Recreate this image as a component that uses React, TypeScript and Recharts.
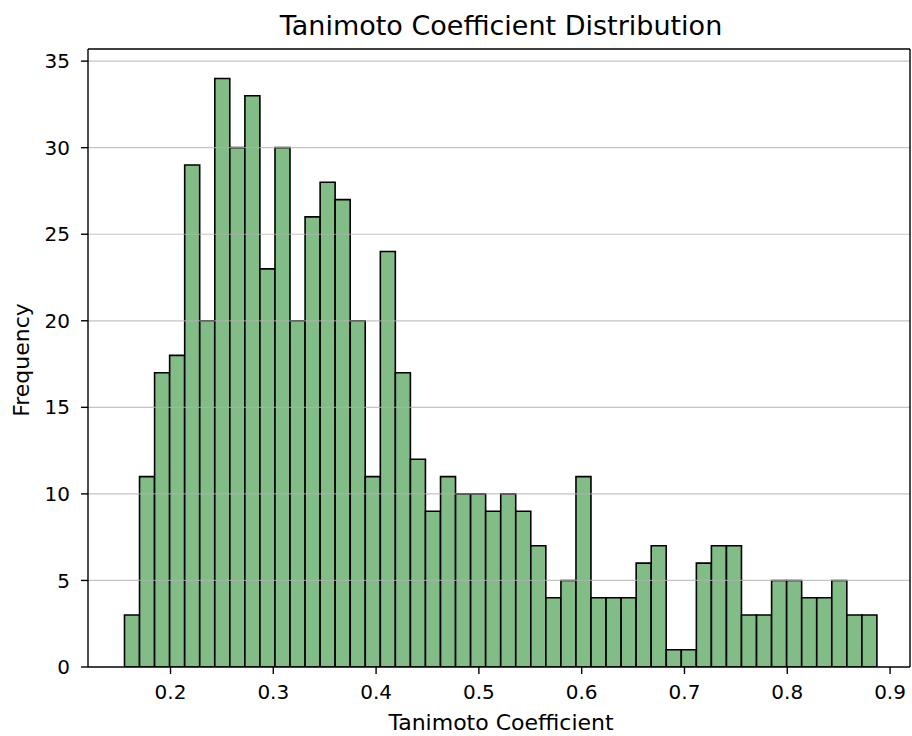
import { BarChart, Bar, XAxis, YAxis, ReferenceLine } from "recharts";

// histogram counts, 50 equal-width bins
const binCounts = [
  3, 11, 17, 18, 29, 20, 34, 30, 33, 23, 30, 20, 26, 28, 27, 20, 11, 24, 17, 12,
  9, 11, 10, 10, 9, 10, 9, 7, 4, 5, 11, 4, 4, 4, 6, 7, 1, 1, 6, 7,
  7, 3, 3, 5, 5, 4, 4, 5, 3, 3,
];
const binStart = 0.15525;
const binWidth = 0.01464;

const xTicks = [0.2, 0.3, 0.4, 0.5, 0.6, 0.7, 0.8, 0.9];
const yTicks = [0, 5, 10, 15, 20, 25, 30, 35];
const xDomain: [number, number] = [0.11975, 0.9194];
const yMax = 35.7;

const data = binCounts.map((count, i) => ({
  center: binStart + (i + 0.5) * binWidth,
  count,
}));

const font = "DejaVu Sans";

export default function App() {
  return (
    <div style={{ position: "absolute", left: 0, top: 0, width: 912, height: 736, background: "#fff" }}>
      <BarChart
        width={912}
        height={736}
        data={data}
        margin={{ top: 49, right: 2, bottom: 9, left: 8 }}
        barCategoryGap={0}
        barGap={0}
      >
        <XAxis
          type="number"
          dataKey="center"
          domain={xDomain}
          ticks={xTicks}
          interval={0}
          allowDataOverflow
          height={60}
          tickSize={7}
          tickMargin={11}
          stroke="#000"
          strokeWidth={1.4}
          tick={{ fill: "#000", fontSize: 20, fontFamily: font }}
          tickFormatter={(v: number) => v.toFixed(1)}
        />
        <YAxis
          type="number"
          domain={[0, yMax]}
          ticks={yTicks}
          interval={0}
          allowDataOverflow
          width={80}
          tickSize={7}
          tickMargin={11}
          stroke="#000"
          strokeWidth={1.4}
          tick={{ fill: "#000", fontSize: 20, fontFamily: font }}
        />
        <Bar
          dataKey="count"
          fill="#82bd88"
          stroke="#000"
          strokeWidth={1.6}
          isAnimationActive={false}
        />
        {yTicks.slice(1).map((t) => (
          <ReferenceLine key={t} y={t} stroke="#b0b0b0" strokeOpacity={0.75} strokeWidth={1.2} />
        ))}
        <ReferenceLine y={yMax} stroke="#000" strokeWidth={1.4} />
        <ReferenceLine x={xDomain[1]} stroke="#000" strokeWidth={1.4} />
      </BarChart>
      <svg
        width={912}
        height={736}
        style={{ position: "absolute", left: 0, top: 0, pointerEvents: "none" }}
        fontFamily={font}
      >
        <text x={501} y={35} textAnchor="middle" fontSize={27} fill="#000">
          Tanimoto Coefficient Distribution
        </text>
        <text x={501} y={730} textAnchor="middle" fontSize={22} fill="#000">
          Tanimoto Coefficient
        </text>
        <text
          x={29}
          y={360}
          textAnchor="middle"
          fontSize={22}
          fill="#000"
          transform="rotate(-90 29 360)"
        >
          Frequency
        </text>
      </svg>
    </div>
  );
}
